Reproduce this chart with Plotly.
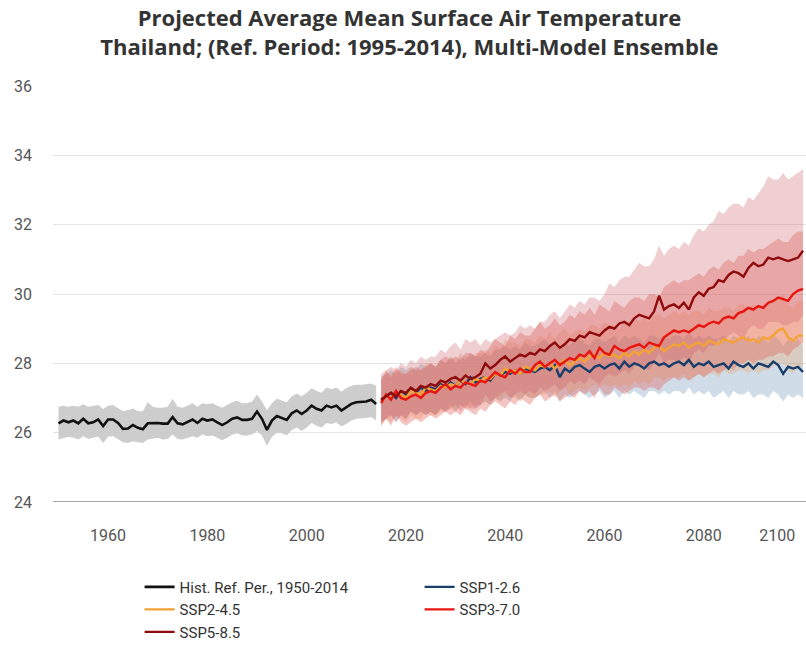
import plotly.graph_objects as go

# ---------------- data ----------------
hist_years = list(range(1950, 2015))
hist_mean = [26.27, 26.35, 26.30, 26.35, 26.27, 26.40, 26.27, 26.30, 26.38, 26.19,
             26.38, 26.38, 26.28, 26.11, 26.12, 26.22, 26.14, 26.10, 26.27, 26.28,
             26.28, 26.26, 26.26, 26.45, 26.27, 26.24, 26.30, 26.38, 26.28, 26.40,
             26.35, 26.38, 26.30, 26.22, 26.30, 26.40, 26.44, 26.37, 26.37, 26.40,
             26.61, 26.40, 26.08, 26.35, 26.48, 26.42, 26.37, 26.56, 26.64, 26.54,
             26.64, 26.78, 26.69, 26.64, 26.78, 26.73, 26.78, 26.64, 26.73, 26.83,
             26.88, 26.88, 26.90, 26.95, 26.83]
hist_lo = [25.80, 25.85, 25.88, 25.85, 25.80, 25.90, 25.82, 25.85, 25.88, 25.70,
           25.88, 25.90, 25.80, 25.72, 25.70, 25.75, 25.72, 25.70, 25.80, 25.82,
           25.85, 25.80, 25.82, 25.95, 25.82, 25.80, 25.85, 25.90, 25.85, 25.95,
           25.90, 25.92, 25.85, 25.78, 25.85, 25.95, 25.98, 25.92, 25.92, 25.95,
           26.05, 25.92, 25.62, 25.88, 26.00, 25.98, 25.92, 26.08, 26.15, 26.05,
           26.15, 26.28, 26.20, 26.15, 26.28, 26.25, 26.30, 26.18, 26.25, 26.35,
           26.40, 26.40, 26.42, 26.45, 26.35]
hist_hi = [26.75, 26.78, 26.75, 26.78, 26.75, 26.82, 26.75, 26.78, 26.80, 26.68,
           26.78, 26.80, 26.72, 26.62, 26.65, 26.70, 26.62, 26.62, 26.88, 26.75,
           26.72, 26.72, 26.75, 26.98, 26.75, 26.72, 26.78, 26.85, 26.75, 26.85,
           26.82, 26.85, 26.78, 26.72, 26.80, 26.88, 26.92, 26.85, 26.85, 26.90,
           27.10, 26.90, 26.65, 26.85, 26.98, 26.92, 26.88, 27.05, 27.12, 27.05,
           27.15, 27.28, 27.20, 27.15, 27.30, 27.25, 27.30, 27.18, 27.28, 27.35,
           27.38, 27.38, 27.40, 27.42, 27.35]

proj_years = list(range(2015, 2101))

ssp126_mean = [26.95, 27.05, 27.15, 27.0, 27.2, 27.1, 27.25, 27.15, 27.3, 27.2,
               27.3, 27.25, 27.4, 27.3, 27.45, 27.35, 27.5, 27.4, 27.6, 27.45,
               27.55, 27.6, 27.5, 27.7, 27.65, 27.75, 27.7, 27.8, 27.7, 27.85,
               27.8, 27.75, 27.85, 27.9, 27.8, 27.95, 27.6, 27.85, 27.75, 27.9,
               27.95, 27.85, 27.75, 27.9, 27.95, 27.85, 27.95, 28.0, 27.85, 28.05,
               27.9, 28.0, 27.95, 27.85, 28.0, 28.05, 27.95, 28.0, 27.9, 28.0,
               28.05, 27.95, 28.1, 27.9, 28.0, 27.95, 28.05, 27.9, 27.95, 28.0,
               27.85, 28.05, 27.95, 27.9, 28.0, 27.85, 28.0, 27.95, 27.9, 28.05,
               27.95, 27.7, 27.9, 27.85, 27.9, 27.75]
ssp126_lo = [26.3, 26.4, 26.5, 26.3, 26.5, 26.4, 26.6, 26.5, 26.6, 26.5,
             26.6, 26.5, 26.7, 26.6, 26.8, 26.6, 26.8, 26.7, 26.9, 26.7,
             26.8, 26.9, 26.8, 27.0, 26.9, 27.0, 26.9, 27.1, 26.9, 27.1,
             27.0, 27.0, 27.1, 27.2, 27.0, 27.2, 26.9, 27.1, 27.0, 27.1,
             27.2, 27.1, 27.0, 27.1, 27.2, 27.0, 27.1, 27.2, 27.0, 27.2,
             27.1, 27.2, 27.1, 27.0, 27.2, 27.2, 27.1, 27.2, 27.1, 27.2,
             27.2, 27.1, 27.3, 27.1, 27.2, 27.1, 27.2, 27.0, 27.1, 27.2,
             27.0, 27.2, 27.1, 27.1, 27.2, 27.0, 27.1, 27.1, 27.0, 27.2,
             27.1, 26.9, 27.1, 27.0, 27.1, 27.0]
ssp126_hi = [27.6, 27.7, 27.8, 27.7, 27.9, 27.8, 27.9, 27.8, 28.0, 27.9,
             28.0, 27.9, 28.1, 28.0, 28.2, 28.0, 28.2, 28.1, 28.3, 28.2,
             28.2, 28.3, 28.2, 28.4, 28.4, 28.5, 28.4, 28.5, 28.4, 28.6,
             28.5, 28.5, 28.6, 28.7, 28.5, 28.7, 28.4, 28.6, 28.5, 28.7,
             28.7, 28.6, 28.5, 28.7, 28.7, 28.6, 28.7, 28.8, 28.6, 28.8,
             28.7, 28.8, 28.7, 28.6, 28.8, 28.8, 28.7, 28.8, 28.7, 28.8,
             28.8, 28.7, 28.9, 28.7, 28.8, 28.7, 28.8, 28.7, 28.7, 28.8,
             28.6, 28.8, 28.7, 28.7, 28.8, 28.6, 28.8, 28.7, 28.6, 28.8,
             28.7, 28.5, 28.7, 28.6, 28.7, 28.5]

ssp245_mean = [26.9, 27.05, 27.0, 27.15, 27.1, 27.0, 27.2, 27.15, 27.1, 27.3,
               27.25, 27.2, 27.35, 27.3, 27.4, 27.35, 27.5, 27.45, 27.4, 27.55,
               27.5, 27.6, 27.55, 27.7, 27.65, 27.85, 27.75, 27.8, 27.7, 27.9,
               27.85, 27.8, 27.95, 27.9, 28.0, 27.85, 28.0, 28.1, 27.95, 28.05,
               28.15, 28.05, 28.2, 28.25, 28.15, 28.3, 28.2, 28.25, 28.15, 28.3,
               28.2, 28.35, 28.25, 28.4, 28.3, 28.45, 28.5, 28.35, 28.45, 28.55,
               28.5, 28.6, 28.45, 28.55, 28.6, 28.5, 28.65, 28.6, 28.55, 28.7,
               28.65, 28.6, 28.7, 28.75, 28.65, 28.7, 28.6, 28.75, 28.7, 28.8,
               28.95, 29.0, 28.75, 28.65, 28.8, 28.8]
ssp245_lo = [26.2, 26.4, 26.3, 26.5, 26.4, 26.3, 26.5, 26.4, 26.4, 26.6,
             26.5, 26.5, 26.6, 26.6, 26.7, 26.6, 26.8, 26.7, 26.7, 26.8,
             26.8, 26.9, 26.8, 27.0, 26.9, 27.1, 27.0, 27.0, 26.9, 27.1,
             27.0, 27.0, 27.1, 27.1, 27.2, 27.0, 27.2, 27.3, 27.1, 27.2,
             27.3, 27.2, 27.3, 27.4, 27.3, 27.4, 27.3, 27.4, 27.3, 27.4,
             27.3, 27.5, 27.4, 27.5, 27.4, 27.6, 27.6, 27.5, 27.6, 27.6,
             27.6, 27.7, 27.5, 27.6, 27.7, 27.6, 27.7, 27.7, 27.6, 27.8,
             27.7, 27.7, 27.8, 27.8, 27.7, 27.8, 27.7, 27.8, 27.8, 27.9,
             28.0, 28.0, 27.8, 27.7, 27.9, 27.9]
ssp245_hi = [27.6, 27.7, 27.7, 27.8, 27.8, 27.7, 27.9, 27.8, 27.8, 28.0,
             28.0, 27.9, 28.1, 28.0, 28.2, 28.1, 28.3, 28.2, 28.2, 28.3,
             28.3, 28.4, 28.3, 28.5, 28.4, 28.7, 28.6, 28.6, 28.5, 28.7,
             28.7, 28.6, 28.8, 28.7, 28.9, 28.7, 28.9, 29.0, 28.8, 28.9,
             29.0, 28.9, 29.1, 29.1, 29.0, 29.2, 29.1, 29.1, 29.0, 29.2,
             29.1, 29.3, 29.2, 29.3, 29.2, 29.4, 29.4, 29.3, 29.4, 29.5,
             29.4, 29.5, 29.4, 29.5, 29.5, 29.4, 29.6, 29.5, 29.5, 29.6,
             29.6, 29.5, 29.7, 29.7, 29.6, 29.7, 29.6, 29.7, 29.7, 29.8,
             29.9, 30.0, 29.7, 29.6, 29.8, 29.8]

ssp370_mean = [26.85, 27.1, 26.95, 27.2, 27.0, 26.95, 27.05, 27.1, 27.0, 27.15,
               27.2, 27.15, 27.3, 27.4, 27.25, 27.35, 27.3, 27.45, 27.4, 27.35,
               27.5, 27.45, 27.6, 27.75, 27.65, 27.6, 27.8, 27.7, 27.85, 27.75,
               27.75, 27.95, 28.05, 27.9, 28.0, 28.1, 27.95, 28.05, 28.15, 28.1,
               28.25, 28.2, 28.35, 28.15, 28.45, 28.3, 28.25, 28.5, 28.4, 28.35,
               28.45, 28.5, 28.55, 28.45, 28.6, 28.55, 28.5, 28.75, 28.85, 28.95,
               28.9, 28.95, 28.9, 29.0, 29.1, 29.05, 29.15, 29.2, 29.15, 29.3,
               29.35, 29.3, 29.45, 29.5, 29.6, 29.55, 29.65, 29.6, 29.75, 29.8,
               29.9, 29.85, 29.8, 30.0, 30.1, 30.15]
ssp370_lo = [26.2, 26.4, 26.2, 26.5, 26.3, 26.2, 26.3, 26.4, 26.3, 26.4,
             26.5, 26.4, 26.5, 26.6, 26.5, 26.6, 26.5, 26.7, 26.6, 26.5,
             26.7, 26.6, 26.8, 26.9, 26.8, 26.7, 26.9, 26.8, 27.0, 26.9,
             26.8, 27.0, 27.1, 26.9, 27.0, 27.1, 26.9, 27.0, 27.1, 27.0,
             27.2, 27.1, 27.2, 27.0, 27.3, 27.1, 27.1, 27.3, 27.2, 27.1,
             27.2, 27.3, 27.3, 27.2, 27.3, 27.3, 27.2, 27.4, 27.5, 27.6,
             27.5, 27.6, 27.5, 27.6, 27.7, 27.6, 27.7, 27.8, 27.7, 27.8,
             27.9, 27.8, 28.0, 28.0, 28.1, 28.0, 28.1, 28.1, 28.2, 28.2,
             28.3, 28.3, 28.2, 28.4, 28.5, 28.6]
ssp370_hi = [27.5, 27.8, 27.6, 27.9, 27.7, 27.7, 27.8, 27.9, 27.8, 27.9,
             28.0, 27.9, 28.1, 28.2, 28.1, 28.2, 28.1, 28.3, 28.3, 28.2,
             28.4, 28.3, 28.5, 28.7, 28.6, 28.5, 28.8, 28.7, 28.9, 28.8,
             28.8, 29.0, 29.2, 29.0, 29.1, 29.3, 29.1, 29.2, 29.4, 29.3,
             29.5, 29.4, 29.6, 29.4, 29.7, 29.6, 29.5, 29.8, 29.7, 29.6,
             29.8, 29.9, 29.9, 29.8, 30.0, 30.0, 29.9, 30.2, 30.3, 30.4,
             30.3, 30.4, 30.4, 30.5, 30.6, 30.5, 30.7, 30.8, 30.7, 30.9,
             31.0, 30.9, 31.1, 31.1, 31.3, 31.2, 31.3, 31.3, 31.4, 31.5,
             31.6, 31.5, 31.5, 31.7, 31.8, 31.8]

ssp585_mean = [26.95, 27.05, 27.15, 27.05, 27.2, 27.15, 27.3, 27.2, 27.35, 27.3,
               27.4, 27.35, 27.5, 27.45, 27.55, 27.6, 27.5, 27.65, 27.55, 27.6,
               27.7, 28.0, 27.85, 27.95, 28.1, 28.2, 28.05, 28.15, 28.25, 28.2,
               28.3, 28.25, 28.4, 28.35, 28.5, 28.6, 28.45, 28.55, 28.7, 28.65,
               28.8, 28.75, 28.9, 28.85, 28.8, 28.95, 29.05, 29.0, 29.15, 29.2,
               29.1, 29.3, 29.4, 29.35, 29.3, 29.5, 29.95, 29.55, 29.65, 29.7,
               29.6, 29.75, 29.55, 29.9, 30.05, 29.95, 30.15, 30.2, 30.4, 30.35,
               30.55, 30.65, 30.6, 30.5, 30.75, 30.9, 30.8, 30.85, 31.05, 31.0,
               31.05, 31.0, 30.95, 31.0, 31.05, 31.25]
ssp585_lo = [26.3, 26.4, 26.5, 26.3, 26.5, 26.4, 26.6, 26.5, 26.6, 26.5,
             26.6, 26.5, 26.7, 26.6, 26.7, 26.8, 26.6, 26.8, 26.7, 26.7,
             26.8, 27.1, 26.9, 27.0, 27.1, 27.2, 27.0, 27.1, 27.2, 27.1,
             27.2, 27.1, 27.3, 27.2, 27.3, 27.4, 27.2, 27.3, 27.5, 27.4,
             27.5, 27.4, 27.6, 27.5, 27.4, 27.6, 27.7, 27.6, 27.7, 27.8,
             27.7, 27.9, 28.0, 27.9, 27.8, 28.0, 28.3, 28.0, 28.1, 28.1,
             28.0, 28.2, 28.0, 28.3, 28.4, 28.3, 28.5, 28.5, 28.7, 28.6,
             28.8, 28.9, 28.8, 28.7, 29.0, 29.1, 29.0, 29.0, 29.2, 29.2,
             29.2, 29.1, 29.1, 29.2, 29.2, 29.4]
ssp585_hi = [27.7, 27.8, 27.9, 27.8, 28.0, 27.9, 28.1, 28.0, 28.2, 28.1,
             28.2, 28.2, 28.4, 28.3, 28.5, 28.6, 28.4, 28.7, 28.6, 28.7,
             28.5, 28.7, 28.6, 28.7, 28.8, 28.9, 28.8, 28.9, 29.1, 29.0,
             29.1, 29.0, 29.2, 29.2, 29.4, 29.5, 29.3, 29.5, 29.7, 29.6,
             29.8, 29.7, 29.9, 29.9, 29.8, 30.0, 30.3, 30.2, 30.4, 30.5,
             30.5, 30.7, 30.9, 30.8, 30.8, 31.0, 31.4, 31.1, 31.3, 31.4,
             31.3, 31.5, 31.4, 31.7, 31.9, 31.8, 32.0, 32.1, 32.4, 32.3,
             32.5, 32.6, 32.6, 32.5, 32.8, 32.7, 32.9, 33.1, 33.4, 33.3,
             33.3, 33.5, 33.3, 33.4, 33.5, 33.6]

x_tick_vals = [1960, 1980, 2000, 2020, 2040, 2060, 2080, 2100]
x_tick_text = ["1960", "1980", "2000", "2020", "2040", "2060", "2080",
               "2100" + "\u00a0" * 13]
y_tick_vals = [24, 26, 28, 30, 32, 34, 36]

# ---------------- figure ----------------
fig = go.Figure()

def band(x, lo, hi, fill):
    fig.add_trace(go.Scatter(x=x, y=hi, mode="lines", line=dict(width=0),
                             showlegend=False, hoverinfo="skip"))
    fig.add_trace(go.Scatter(x=x, y=lo, mode="lines", line=dict(width=0),
                             fill="tonexty", fillcolor=fill,
                             showlegend=False, hoverinfo="skip"))

band(hist_years, hist_lo, hist_hi, "rgba(200,200,200,0.9)")
band(proj_years, ssp126_lo, ssp126_hi, "rgba(120,155,190,0.35)")
band(proj_years, ssp245_lo, ssp245_hi, "rgba(240,165,100,0.30)")
band(proj_years, ssp370_lo, ssp370_hi, "rgba(225,90,80,0.35)")
band(proj_years, ssp585_lo, ssp585_hi, "rgba(205,95,105,0.30)")

fig.add_trace(go.Scatter(x=hist_years, y=hist_mean, mode="lines",
                         name="Hist. Ref. Per., 1950-2014",
                         line=dict(color="#111111", width=2.6)))
fig.add_trace(go.Scatter(x=proj_years, y=ssp126_mean, mode="lines",
                         name="SSP1-2.6", line=dict(color="#183e6b", width=2.4)))
fig.add_trace(go.Scatter(x=proj_years, y=ssp245_mean, mode="lines",
                         name="SSP2-4.5", line=dict(color="#f4a233", width=2.4)))
fig.add_trace(go.Scatter(x=proj_years, y=ssp370_mean, mode="lines",
                         name="SSP3-7.0", line=dict(color="#e8140f", width=2.4)))
fig.add_trace(go.Scatter(x=proj_years, y=ssp585_mean, mode="lines",
                         name="SSP5-8.5", line=dict(color="#8f0b0b", width=2.4)))

fig.update_layout(
    width=806, height=650,
    margin=dict(l=53, r=0, t=86, b=148, autoexpand=False),
    paper_bgcolor="white", plot_bgcolor="white",
    font=dict(family="Roboto", color="#444444", size=15),
    title=dict(
        text="Projected Average Mean Surface Air Temperature<br>"
             "Thailand; (Ref. Period: 1995-2014), Multi-Model Ensemble",
        font=dict(family="Open Sans", size=22, color="#333333", weight="bold"),
        x=0.508, xanchor="center", xref="container",
        y=0.96, yanchor="top", yref="container"),
    showlegend=True,
    legend=dict(orientation="h", x=0.115, xanchor="left", y=-0.165, yanchor="top",
                entrywidth=235, entrywidthmode="pixels",
                font=dict(family="Roboto", size=15, color="#333333"),
                traceorder="normal", tracegroupgap=0),
)
fig.update_xaxes(range=[1948.9, 2100.6], tickmode="array",
                 tickvals=x_tick_vals, ticktext=x_tick_text, automargin=False,
                 showgrid=False, zeroline=False, showline=False,
                 ticks="", ticklabelstandoff=22, ticklabeloverflow="allow",
                 tickfont=dict(family="Roboto", size=16, color="#555555"))
fig.update_yaxes(range=[24, 36], tickmode="array", tickvals=y_tick_vals,
                 showgrid=True, gridcolor="#e4e4e4", gridwidth=1,
                 zeroline=False, showline=False, ticks="", automargin=False,
                 ticklabelstandoff=20,
                 tickfont=dict(family="Roboto", size=16, color="#555555"))
fig.add_hline(y=24, line=dict(color="#888888", width=1.5))

fig.write_html("out.html")
